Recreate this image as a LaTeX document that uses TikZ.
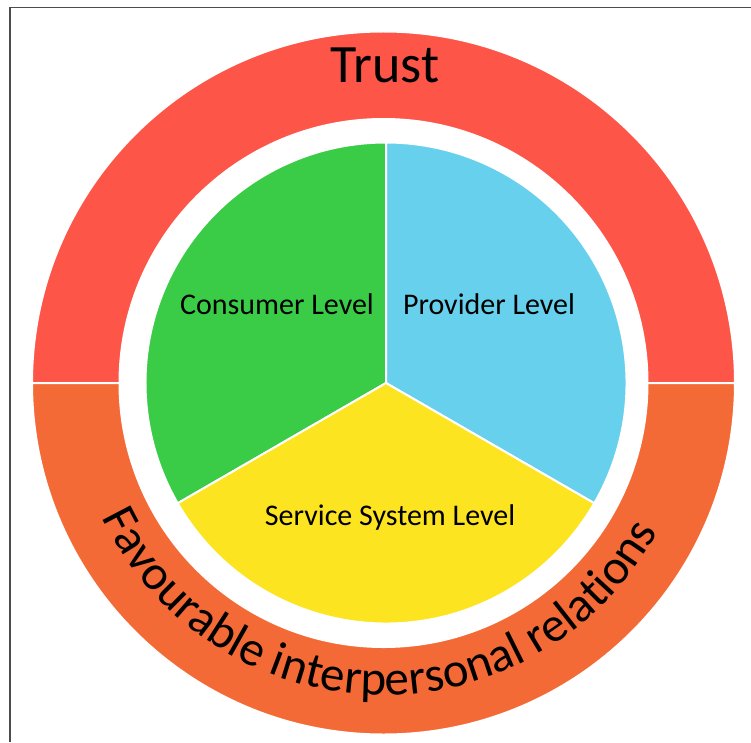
\documentclass[tikz,border=0pt]{standalone}
\usepackage{fontspec}
\setmainfont{Carlito}
\usetikzlibrary{decorations.text}
\definecolor{trustred}{HTML}{FD5548}
\definecolor{relorange}{HTML}{F46A36}
\definecolor{consgreen}{HTML}{3ACC46}
\definecolor{provblue}{HTML}{67D0EC}
\definecolor{servyellow}{HTML}{FDE421}

\begin{document}
\begin{tikzpicture}[x=1pt,y=1pt,
    part/.style={draw=white,line width=2pt},
    level/.style={font=\fontsize{30}{36}\selectfont,anchor=base}]
  \useasboundingbox (-383.5,-359) rectangle (367.5,383);
  \draw[line width=1.3pt,black!70] (-373.5,-359) -- (-373.5,375.5) -- (367.5,375.5);
  % outer ring
  \filldraw[part,fill=trustred] (0:351.5) arc (0:180:351.5) -- (180:264) arc (180:0:264) -- cycle;
  \filldraw[part,fill=relorange] (180:351.5) arc (180:360:351.5) -- (360:264) arc (360:180:264) -- cycle;
  % inner pie
  \begin{scope}[shift={(2.5,0)}]
    \filldraw[part,fill=consgreen] (0,0) -- (90:240.5) arc (90:210:240.5) -- cycle;
    \filldraw[part,fill=provblue] (0,0) -- (-30:240.5) arc (-30:90:240.5) -- cycle;
    \filldraw[part,fill=servyellow] (0,0) -- (210:240.5) arc (210:330:240.5) -- cycle;
  \end{scope}
  \node[level] (cons) at (-106.5,69) {Consumer Level};
  \node[level] (prov) at (105.5,69) {Provider Level};
  \node[level] (serv) at (6.5,-142) {Service System Level};
  \node[font=\fontsize{54}{60}\selectfont,anchor=base] (trust) at (1.5,300) {Trust};
  \path[decorate,decoration={text along path,text align=center,
      text={|\fontsize{49}{56}\selectfont|Favourable interpersonal relations}}]
    (178.5:312) arc (178.5:358.5:312);
\end{tikzpicture}
\end{document}
